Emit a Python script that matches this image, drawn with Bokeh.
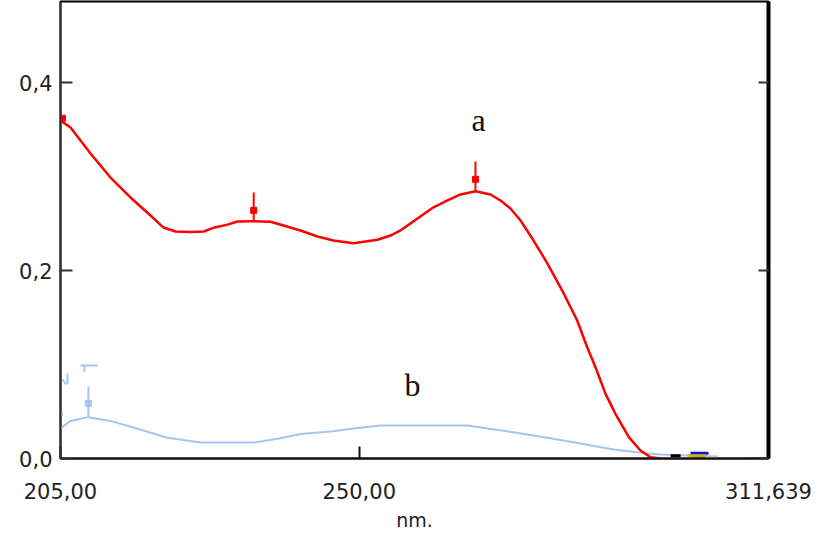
from bokeh.plotting import figure
from bokeh.models import Range1d, LinearAxis, FixedTicker
from bokeh.core.properties import value
from bokeh.embed import file_html
from bokeh.resources import INLINE

# ---- data ----
wl_a = [205.00, 206.51, 209.52, 212.53, 215.54, 218.56, 220.51, 222.32, 224.58,
        226.54, 228.05, 230.15, 231.66, 234.07, 236.63, 238.59, 241.15, 243.71,
        246.12, 249.13, 252.75, 254.71, 256.21, 258.77, 261.18, 263.29, 265.25,
        267.51, 269.77, 271.27, 272.78, 274.29, 276.25, 278.35, 280.57, 282.83,
        284.33, 285.58, 287.09, 288.59, 290.60, 292.36, 293.87, 295.38]
abs_a = [0.3596, 0.3521, 0.3245, 0.2989, 0.2777, 0.2585, 0.2457, 0.2415, 0.2410,
         0.2415, 0.2454, 0.2488, 0.2521, 0.2524, 0.2518, 0.2479, 0.2426, 0.2362,
         0.2319, 0.2290, 0.2327, 0.2372, 0.2426, 0.2553, 0.2673, 0.2745, 0.2809,
         0.2844, 0.2809, 0.2745, 0.2660, 0.2532, 0.2319, 0.2074, 0.1787, 0.1468,
         0.1184, 0.0971, 0.0688, 0.0475, 0.0227, 0.0085, 0.0014, 0.0]

wl_b = [205.0, 206.5, 209.2, 212.5, 216.0, 221.1, 226.1, 234.1, 237.7, 241.2,
        246.1, 249.1, 253.2, 266.3, 270.2, 273.2, 278.3, 283.3, 288.3, 293.4,
        295.4, 304.0]
abs_b = [0.032, 0.040, 0.044, 0.040, 0.033, 0.022, 0.017, 0.017, 0.021, 0.026,
         0.029, 0.032, 0.035, 0.035, 0.031, 0.028, 0.022, 0.016, 0.0096, 0.0053,
         0.0043, 0.002]

# peak markers on curve a
peak_wl = [234.1, 267.5]
peak_top = [0.283, 0.316]
peak_base = [0.252, 0.284]
peak_mark = [0.264, 0.297]
start_wl = [205.3]
start_abs = [0.362]

# stray marks of curve b (instrument artefacts)
b_marks_x = [[209.2, 209.2], [208.0, 210.6], [208.6, 208.6],
             [205.3, 205.75, 206.05, 206.05], [205.2, 205.2]]
b_marks_y = [[0.044, 0.0766], [0.099, 0.099], [0.099, 0.092],
             [0.084, 0.0798, 0.0798, 0.0904], [0.045, 0.051]]
b_mark_pt_x = [209.2]
b_mark_pt_y = [0.0585]

# other traces hugging zero at the right end
z_marks_x = [[296.9, 298.4], [299.9, 302.6], [299.6, 302.2], [300.3, 302.2],
             [302.2, 304.0], [308.8, 309.4], [309.4, 311.3]]
z_marks_y = [[0.003, 0.003], [0.0055, 0.0055], [0.003, 0.003], [0.0, 0.0],
             [0.0, 0.0], [0.0, 0.0], [0.0, 0.0]]
z_marks_c = ["#000000", "#1010e0", "#c8b400", "#a020c0", "#c8b400",
             "#20a020", "#c03030"]

x_ticks = [205.0, 250.0, 311.639]
x_tick_labels = ["205,00", "250,00", "311,639"]
y_ticks = [0.0, 0.2, 0.4]
y_tick_labels = ["0,0", "0,2", "0,4"]

curve_labels = ["a", "b"]
label_x = [267.96, 258.0]
label_y = [0.3596, 0.0777]

RED = "#ff0000"
BLUE = "#a4c6ee"
TXT = "#222222"
FONT = "DejaVu Sans"

p = figure(width=821, height=537, output_backend="svg", toolbar_location=None,
           x_range=Range1d(205.0, 311.639), y_range=Range1d(0.0, 0.4862),
           min_border_left=60, min_border_right=53, min_border_top=1,
           min_border_bottom=79, background_fill_color="white",
           border_fill_color="white")
p.xgrid.visible = False
p.ygrid.visible = False
p.outline_line_color = "black"
p.outline_line_width = 2

# bottom axis
xa = p.xaxis[0]
xa.ticker = FixedTicker(ticks=x_ticks)
xa.major_label_overrides = dict(zip(x_ticks, x_tick_labels))
xa.major_tick_in = 12
xa.major_tick_out = 0
xa.minor_tick_line_color = None
xa.axis_line_width = 2
xa.axis_line_color = "#111111"
xa.major_tick_line_width = 2
xa.major_tick_line_color = "#111111"
xa.major_label_standoff = 24
xa.major_label_text_font = FONT
xa.major_label_text_font_size = "21px"
xa.major_label_text_color = TXT
xa.axis_label = "nm."
xa.axis_label_text_font = FONT
xa.axis_label_text_font_size = "19px"
xa.axis_label_text_font_style = "normal"
xa.axis_label_text_color = TXT
xa.axis_label_standoff = 7

# left axis
ya = p.yaxis[0]
ya.ticker = FixedTicker(ticks=y_ticks)
ya.major_label_overrides = dict(zip(y_ticks, y_tick_labels))
ya.major_tick_in = 12
ya.major_tick_out = 0
ya.minor_tick_line_color = None
ya.axis_line_width = 2
ya.axis_line_color = "#333333"
ya.major_tick_line_width = 2
ya.major_tick_line_color = "#333333"
ya.major_label_standoff = 8
ya.major_label_text_font = FONT
ya.major_label_text_font_size = "21px"
ya.major_label_text_color = TXT

# right axis (thick, ticks only)
ra = LinearAxis(ticker=FixedTicker(ticks=y_ticks),
                major_label_overrides=dict(zip(y_ticks, ["", "", ""])),
                major_tick_in=10, major_tick_out=0, minor_tick_line_color=None,
                axis_line_width=4, axis_line_color="black",
                major_tick_line_width=2, major_tick_line_color="#333333")
p.add_layout(ra, "right")

# curves
p.line(wl_b, abs_b, line_color=BLUE, line_width=2)
p.multi_line(b_marks_x, b_marks_y, line_color=BLUE, line_width=2)
p.scatter(b_mark_pt_x, b_mark_pt_y, marker="square", size=6, color=BLUE)

p.multi_line(z_marks_x, z_marks_y, line_color=z_marks_c, line_width=3)

p.line(wl_a, abs_a, line_color=RED, line_width=2.5, line_join="round")
p.segment(x0=peak_wl, y0=peak_base, x1=peak_wl, y1=peak_top,
          line_color=RED, line_width=2)
p.scatter(peak_wl, peak_mark, marker="square", size=6, color=RED)
p.scatter(start_wl, start_abs, marker="square", size=6, color=RED)

p.text(x=label_x, y=label_y, text=curve_labels,
       text_font=value("Liberation Serif"), text_font_size="32px",
       text_color="#111111", text_align="center", text_baseline="middle")

open("out.html", "w").write(file_html(p, INLINE))
